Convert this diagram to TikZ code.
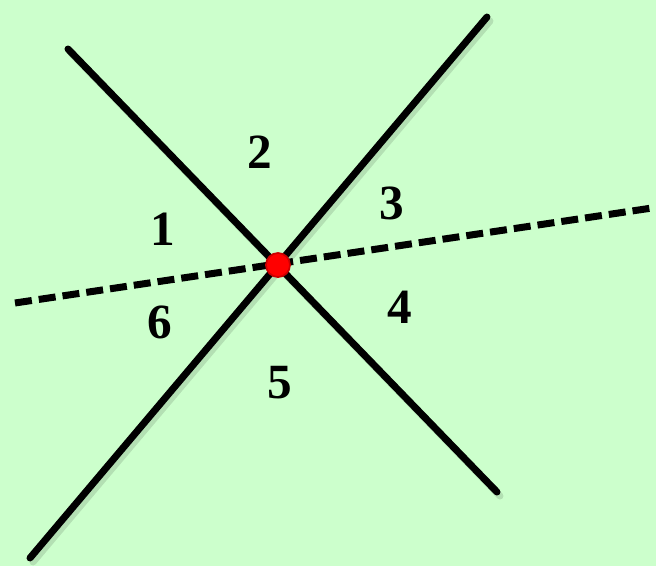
\documentclass[tikz,border=0pt]{standalone}
\usepackage{fontspec}
\setmainfont{Liberation Serif}
\usepackage{tikz}
\definecolor{paleGreen}{RGB}{204,255,204}
\definecolor{dotRed}{RGB}{255,0,0}

\begin{document}
\begin{tikzpicture}[
  x=0.01cm, y=-0.01cm,
  font=\fontsize{14}{16}\selectfont\bfseries,
  solidline/.style={line width=0.07cm, line cap=round, black},
  dashline/.style={line width=0.07cm, black, dash pattern=on 0.17cm off 0.07cm},
  shade/.style={line width=0.07cm, black, opacity=0.12},
  region/.style={inner sep=0pt},
  meet/.style={circle, fill=dotRed, draw=dotRed!80!black, line width=0.5pt, minimum size=0.24cm, inner sep=0pt}]
  \fill[paleGreen] (0,0) rectangle (656,566);
  \useasboundingbox (0,0) rectangle (656,566);
  % line ends
  \coordinate (aTop) at (68,49);
  \coordinate (aBot) at (497,492);
  \coordinate (bTop) at (487,17);
  \coordinate (bBot) at (30,558);
  \coordinate (dLeft) at (15,303);
  \coordinate (dRight) at (652,208);
  % soft shadows
  \draw[shade, line cap=round] ([shift={(3,4)}]aTop)--([shift={(3,4)}]aBot);
  \draw[shade, line cap=round] ([shift={(3,4)}]bTop)--([shift={(3,4)}]bBot);
  \draw[solidline] (aTop)--(aBot);
  \draw[solidline] (bTop)--(bBot);
  \draw[dashline] (dLeft)--(dRight);
  \node[meet] (o) at (278,265) {};
  % numbered regions
  \node[region] (r1) at (163,229) {1};
  \node[region] (r2) at (260,152) {2};
  \node[region] (r3) at (392,203) {3};
  \node[region] (r4) at (400,307) {4};
  \node[region] (r5) at (280,383) {5};
  \node[region] (r6) at (160,322) {6};
\end{tikzpicture}
\end{document}
